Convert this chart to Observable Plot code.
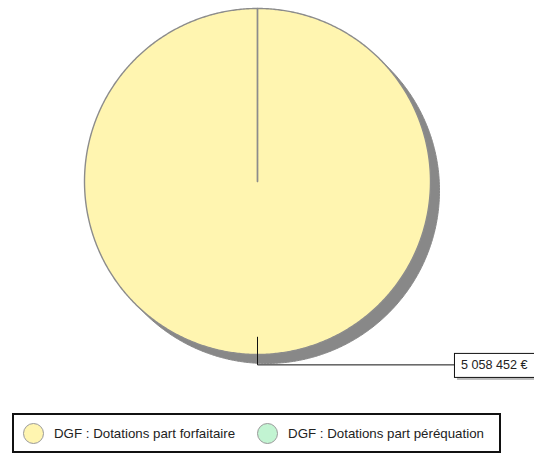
<!DOCTYPE html>
<html><head><meta charset="utf-8">
<script src="https://cdn.jsdelivr.net/npm/d3@7"></script>
<script src="https://cdn.jsdelivr.net/npm/@observablehq/plot@0.6"></script>
<style>
body{margin:0;background:#fff;font-family:"Liberation Sans",Arial,sans-serif;}
#chart{position:relative;width:534px;height:456px;overflow:hidden;}
#legend{position:absolute;left:12px;top:413px;width:485px;height:36px;border:2px solid #111;display:flex;align-items:center;font-size:13.3px;color:#222;}
.item{display:flex;align-items:center;margin-left:9px;margin-right:13px;}
.sw{width:21px;height:21px;border-radius:50%;border:1.5px solid #999;margin-right:10px;box-sizing:border-box;}
</style></head>
<body>
<div id="chart"></div>
<script>
const categories = ["DGF : Dotations part forfaitaire", "DGF : Dotations part péréquation"];
const values = [5058452, 0];
const colors = ["#fff5b0", "#c2f4d2"];

const W = 534, H = 400, cx = 257, cy = 181, R = 173;
const fmt = d3.formatLocale({thousands: " ", grouping: [3], decimal: ",", currency: ["", " €"]}).format("$,.0f");

const arcs = d3.pie().sort(null).startAngle(0).endAngle(2 * Math.PI)(values);
const pts = [];
arcs.forEach((a, i) => {
  const cat = categories[i];
  pts.push({cat, x: 0, y: 0});
  const n = Math.max(1, Math.ceil((a.endAngle - a.startAngle) / (Math.PI / 360)));
  for (let k = 0; k <= n; k++) {
    const t = a.startAngle + (a.endAngle - a.startAngle) * k / n;
    pts.push({cat, x: Math.sin(t), y: Math.cos(t)});
  }
});
const xDomain = [-cx / R, (W - cx) / R];
const leader = [], labels = [];
arcs.forEach((a, i) => {
  if (!a.value) return;
  const m = (a.startAngle + a.endAngle) / 2;
  const cat = categories[i];
  const y1 = 1.06 * Math.cos(m);
  leader.push({cat, x: 0.9 * Math.sin(m), y: 0.9 * Math.cos(m)});
  leader.push({cat, x: 1.06 * Math.sin(m), y: y1});
  leader.push({cat, x: xDomain[1], y: y1});
  labels.push({x: xDomain[1], y: y1, text: fmt(a.value)});
});

const svg = Plot.plot({
  width: W, height: H, margin: 0,
  style: {fontFamily: "Liberation Sans, Arial, sans-serif", fontSize: "12.6px", background: "transparent"},
  x: {domain: xDomain, axis: null},
  y: {domain: [-(H - cy) / R, cy / R], axis: null},
  color: {domain: categories, range: colors},
  marks: [
    Plot.line(pts, {x: "x", y: "y", z: "cat", fill: "#888", stroke: "#888", strokeWidth: 1, dx: 9, dy: 9, curve: "linear-closed"}),
    Plot.line(pts, {x: "x", y: "y", z: "cat", fill: "cat", stroke: "#8c8c8c", strokeWidth: 1.4, curve: "linear-closed"}),
    Plot.line(leader, {x: "x", y: "y", z: "cat", stroke: "#111", strokeWidth: 1}),
    Plot.text(labels, {x: "x", y: "y", text: "text", textAnchor: "end", dx: -7, fill: "#222", lineAnchor: "middle"})
  ]
});
document.getElementById("chart").appendChild(svg);

svg.querySelectorAll('g[aria-label="text"] text').forEach(t => {
  const b = t.getBBox();
  const tr = t.getAttribute("transform") || "";
  const px = 7, x = b.x - px, w = b.width + 2 * px, y = b.y + b.height / 2 - 12, h = 24;
  const ns = "http://www.w3.org/2000/svg";
  const sh = document.createElementNS(ns, "rect");
  sh.setAttribute("x", x + 3); sh.setAttribute("y", y + 3);
  sh.setAttribute("width", w); sh.setAttribute("height", h);
  sh.setAttribute("fill", "#bbb");
  const r = document.createElementNS(ns, "rect");
  r.setAttribute("x", x + 0.5); r.setAttribute("y", y + 0.5);
  r.setAttribute("width", w); r.setAttribute("height", h);
  r.setAttribute("fill", "#fff"); r.setAttribute("stroke", "#111");
  if (tr) { sh.setAttribute("transform", tr); r.setAttribute("transform", tr); }
  t.parentNode.insertBefore(sh, t);
  t.parentNode.insertBefore(r, t);
});

const legend = document.createElement("div");
legend.id = "legend";
categories.forEach((c, i) => {
  const it = document.createElement("div");
  it.className = "item";
  const sw = document.createElement("span");
  sw.className = "sw";
  sw.style.background = colors[i];
  const tx = document.createElement("span");
  tx.textContent = c;
  it.appendChild(sw); it.appendChild(tx);
  legend.appendChild(it);
});
document.getElementById("chart").appendChild(legend);
</script>
</body></html>
